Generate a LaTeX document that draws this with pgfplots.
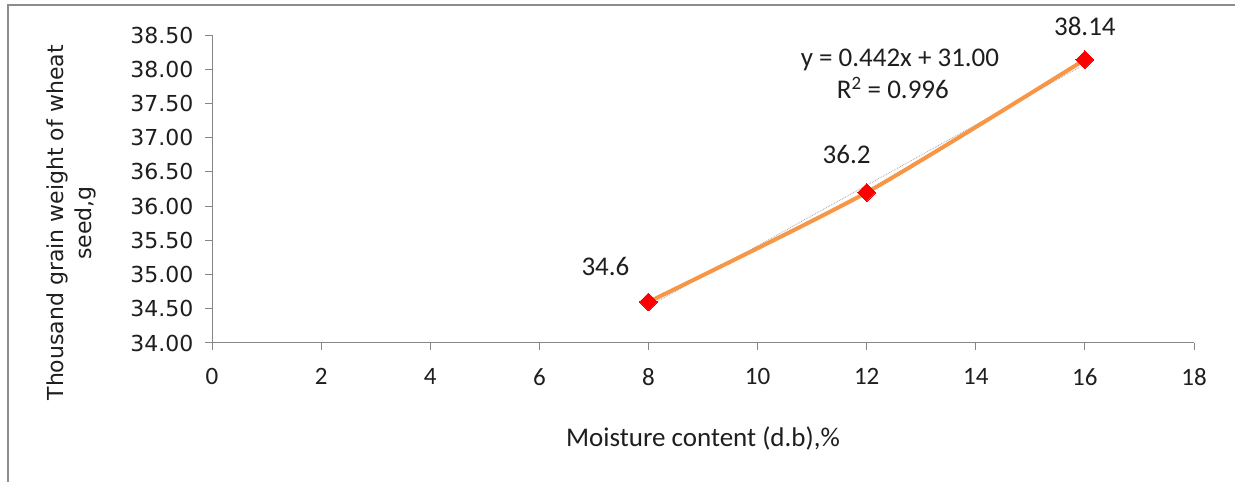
\documentclass[border=0pt]{standalone}
\usepackage{pgfplots}
\pgfplotsset{compat=1.18}
\usepackage{fontspec}
\setmainfont{Carlito}
\newfontfamily\dv{DejaVu Sans}
\definecolor{axgray}{RGB}{134,134,134}
\definecolor{frgray}{RGB}{140,140,140}
\definecolor{lineor}{RGB}{247,150,70}
\definecolor{txt}{RGB}{30,30,30}
\begin{document}
\begin{tikzpicture}[x=1pt,y=1pt]
\useasboundingbox (0,0) rectangle (1235,482);
\draw[frgray,line width=2pt] (8,0) -- (8,477) -- (1235,477);
\begin{axis}[
  at={(212pt,139pt)}, anchor=south west,
  scale only axis, width=982pt, height=308pt,
  xmin=0, xmax=18, ymin=34, ymax=38.5,
  xtick={0,2,...,18}, ytick={34,34.5,...,38.5},
  axis x line*=bottom, axis y line*=left,
  axis line style={axgray, line width=1pt},
  tick style={axgray, line width=1pt},
  tick align=outside, major tick length=7pt,
  /pgf/number format/assume math mode=true,
  yticklabel style={/pgf/number format/.cd, fixed, fixed zerofill, precision=2, /tikz/.cd,
    font=\dv\fontsize{22}{24}\selectfont, text=txt, xshift=-8pt},
  xticklabel style={font=\fontsize{25}{30}\selectfont, text=txt, yshift=-15pt},
  xlabel={Moisture content (d.b),\%},
  xlabel style={at={(axis description cs:0.5,0)}, anchor=center, yshift=-95pt,
    font=\fontsize{27}{32}\selectfont, text=txt},
  ylabel={\begin{tabular}{c}Thousand grain weight of wheat\\seed,g\end{tabular}},
  ylabel style={at={(axis description cs:-0.1425,0.39)}, anchor=center,
    font=\dv\fontsize{22}{28}\selectfont, text=txt},
  clip=false,
]
\addplot[gray!70, line width=0.8pt, densely dotted] coordinates {(8,34.536) (16,38.072)};
\addplot[lineor, line width=4pt, smooth, tension=0.4,
  mark=square*, mark size=6.3pt, mark options={red, draw=red, fill=red, rotate=45, line width=0pt}]
  coordinates {(8,34.6) (12,36.2) (16,38.14)};
\node[font=\fontsize{27}{32}\selectfont, text=txt] at (axis cs:8,34.6) [xshift=-43pt, yshift=35pt] {34.6};
\node[font=\fontsize{27}{32}\selectfont, text=txt] at (axis cs:12,36.2) [xshift=-20pt, yshift=38pt] {36.2};
\node[font=\fontsize{27}{32}\selectfont, text=txt] at (axis cs:16,38.14) [yshift=33pt] {38.14};
\node[font=\fontsize{27}{32}\selectfont, text=txt] at (axis cs:12.61,38.14) {y = 0.442x + 31.00};
\node[font=\fontsize{27}{32}\selectfont, text=txt] at (axis cs:12.48,37.73) {R\textsuperscript{2} = 0.996};
\end{axis}
\end{tikzpicture}
\end{document}
